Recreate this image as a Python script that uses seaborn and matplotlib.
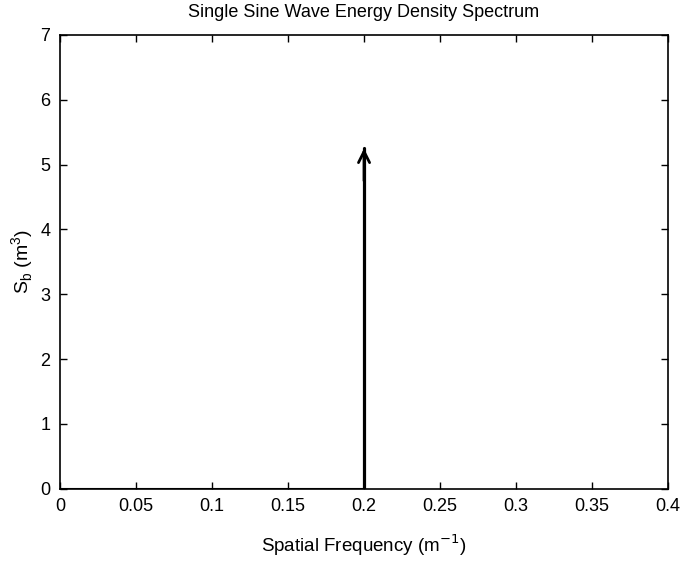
import matplotlib
matplotlib.use('Agg')
import matplotlib.pyplot as plt
import pandas as pd
import seaborn as sns
import numpy as np

# spectrum data: one sine wave -> one spike
freq = [0.2, 0.2]
energy = [0.0, 5.25]
x_ticks = [0, 0.05, 0.1, 0.15, 0.2, 0.25, 0.3, 0.35, 0.4]
x_labels = ["0", "0.05", "0.1", "0.15", "0.2", "0.25", "0.3", "0.35", "0.4"]
y_ticks = [0, 1, 2, 3, 4, 5, 6, 7]

sns.set_style("ticks")
plt.rcParams['font.family'] = ['Liberation Sans', 'DejaVu Sans']
plt.rcParams['text.color'] = 'black'
plt.rcParams['axes.labelcolor'] = 'black'
plt.rcParams['xtick.color'] = 'black'
plt.rcParams['ytick.color'] = 'black'

df = pd.DataFrame({"freq": freq, "energy": energy})

fig = plt.figure(figsize=(6.83, 5.73), dpi=100)
ax = fig.add_axes([0.088, 0.147, 0.89, 0.792])

# stem line, no aggregation
sns.lineplot(data=df, x="freq", y="energy", color="black", linewidth=2.3,
             estimator=None, sort=False, ax=ax)
# arrow head at the top of the spike
ax.annotate("", xy=(df.freq.iloc[-1], df.energy.iloc[-1]),
            xytext=(df.freq.iloc[-1], df.energy.iloc[-1] - 0.5),
            arrowprops=dict(arrowstyle="->", color="black", lw=2,
                            mutation_scale=20, shrinkA=0, shrinkB=0))
# zero level line
ax.plot([0, df.freq.iloc[0]], [0, 0], color="black", lw=1.5)

ax.set_xlim(0, 0.4)
ax.set_ylim(0, 7)
ax.set_xticks(x_ticks)
ax.set_xticklabels(x_labels)
ax.set_yticks(y_ticks)
ax.tick_params(direction="in", top=True, right=True, labelsize=13, length=5, width=1, pad=7)
for s in ax.spines.values():
    s.set_linewidth(1.2)
    s.set_color("black")
    s.set_visible(True)

ax.set_title("Single Sine Wave Energy Density Spectrum", fontsize=13, pad=13)
ax.set_xlabel("Spatial Frequency (m$^{-1}$)", fontsize=13.5, labelpad=12)
ax.set_ylabel("S$_\\mathregular{b}$ (m$^\\mathregular{3}$)", fontsize=14, labelpad=3)

plt.savefig("out.png", dpi=100)
plt.close()
